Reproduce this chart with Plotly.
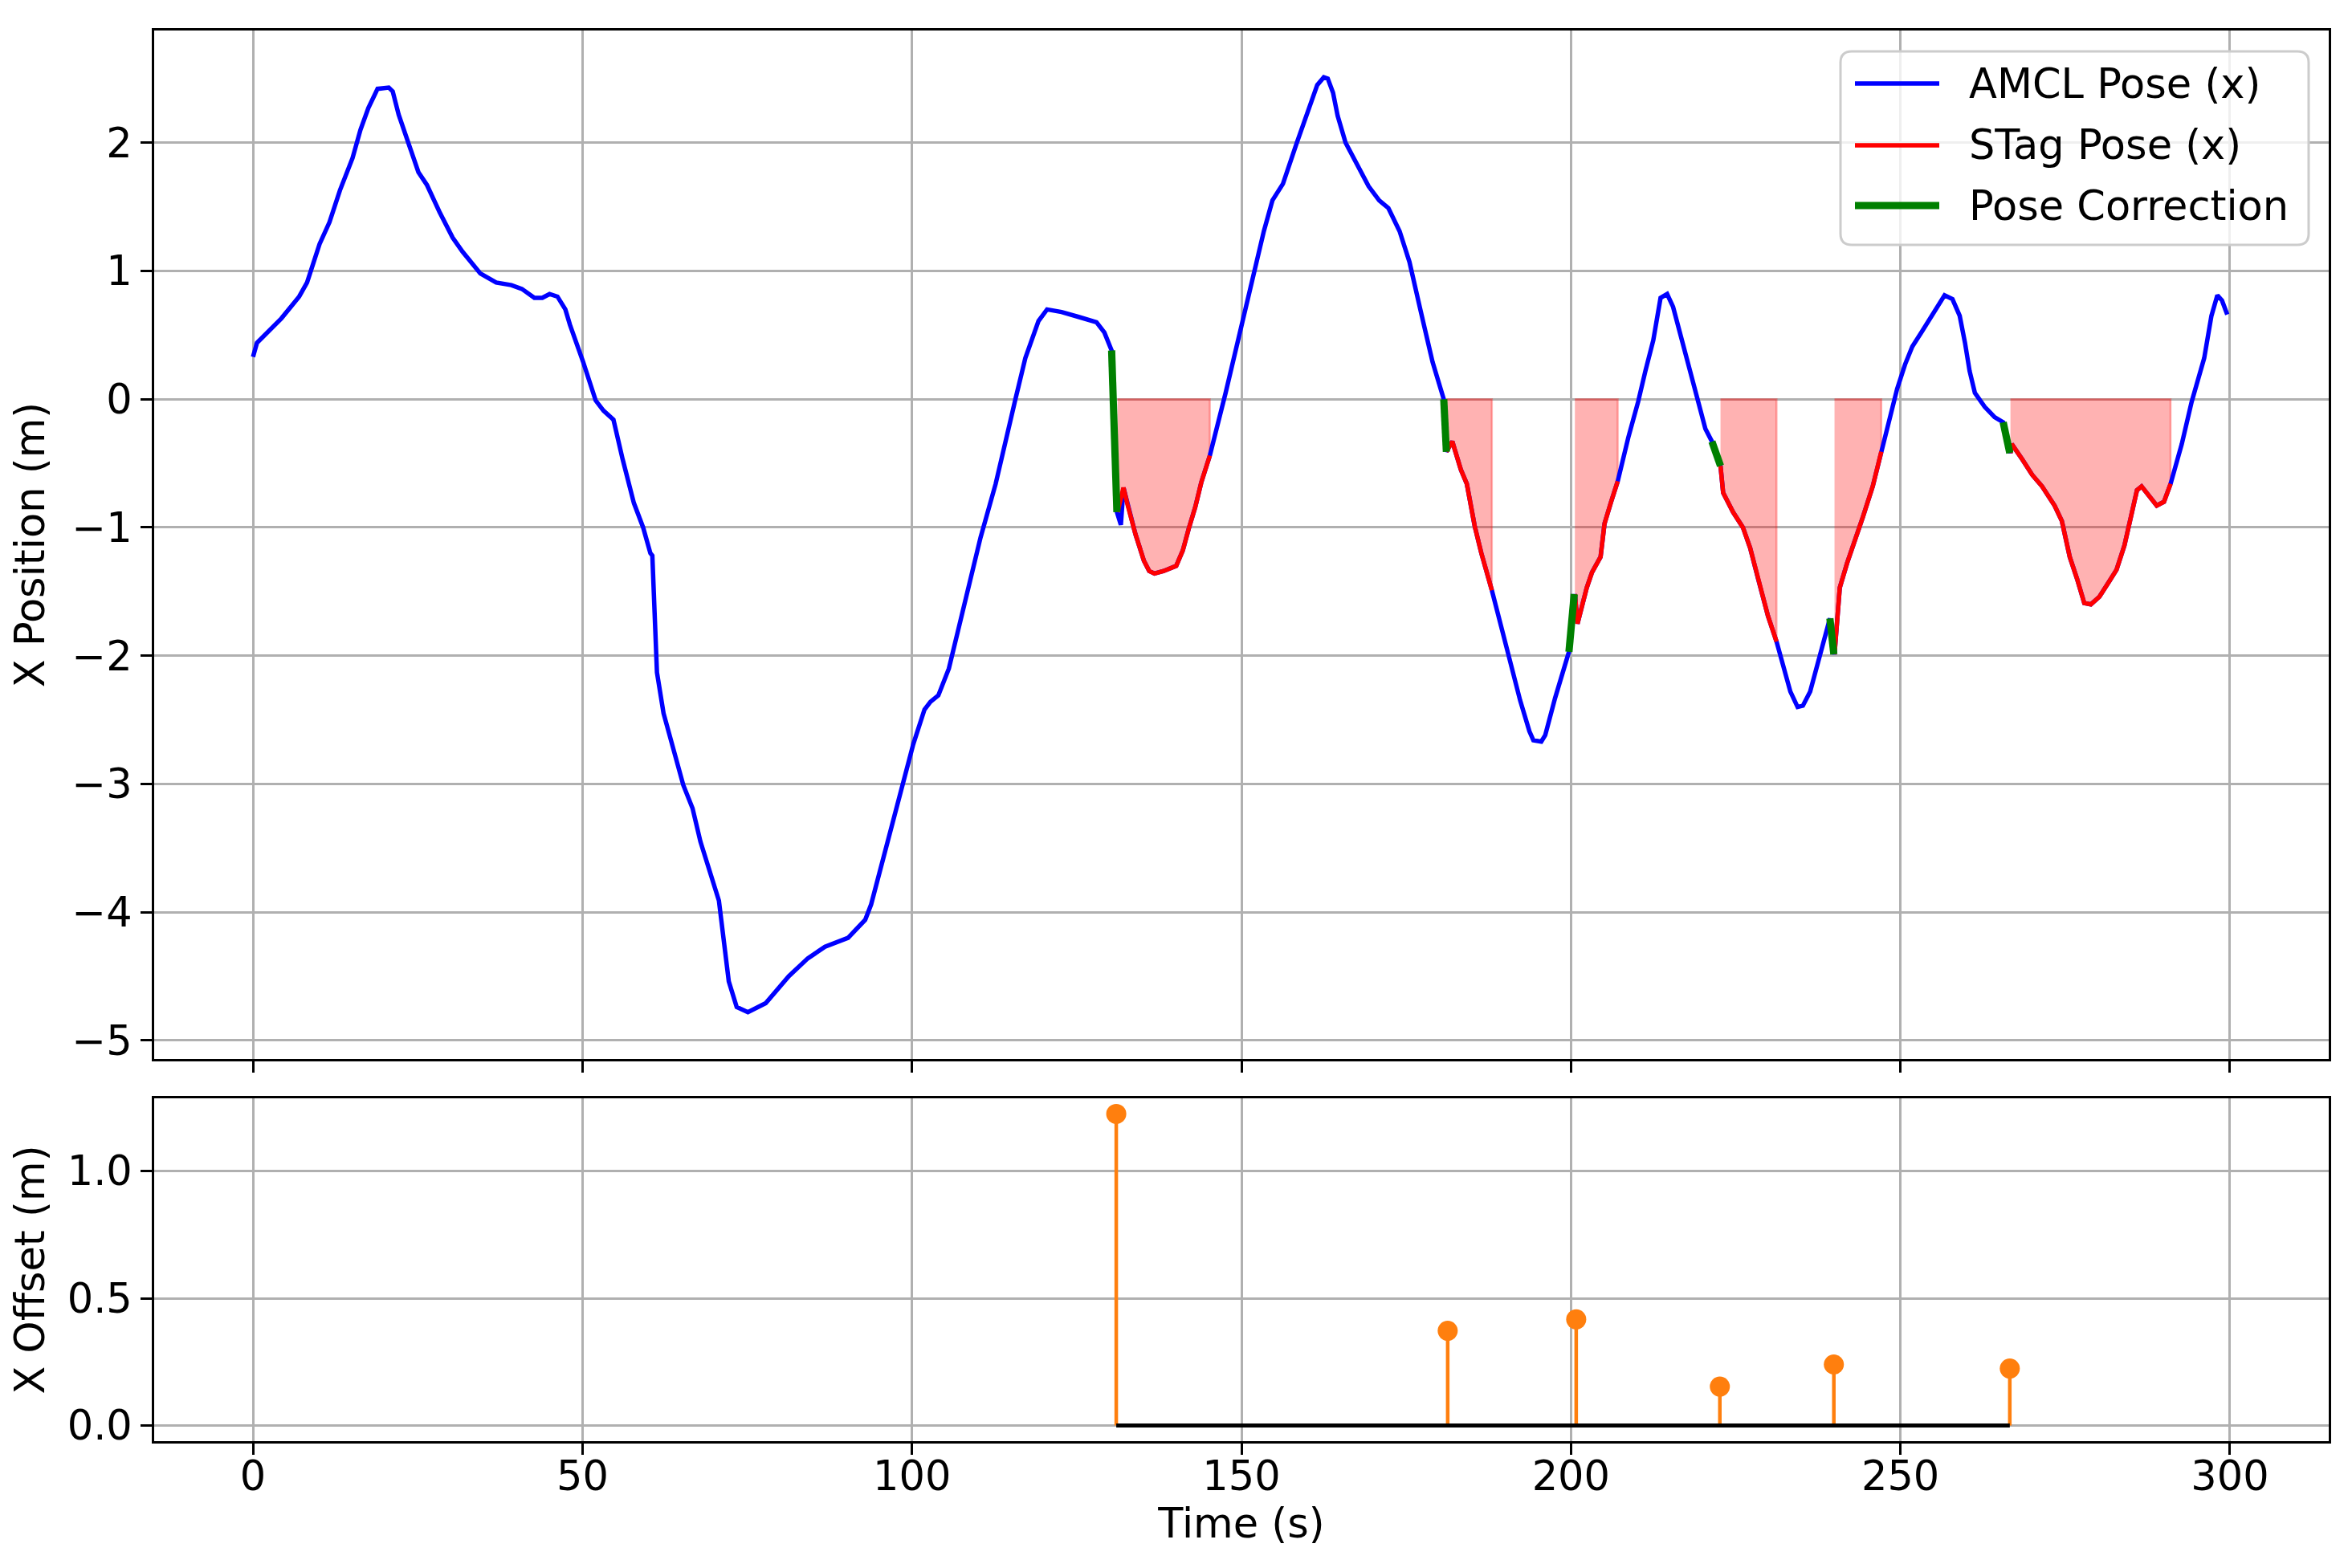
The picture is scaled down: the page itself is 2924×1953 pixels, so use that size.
import plotly.graph_objects as go

# ---------------- data ----------------
amcl_t = [0.0, 0.6, 4.3, 7.0, 8.2, 10.1, 11.6, 13.2, 15.1, 16.3, 17.5, 18.9, 20.6, 21.2,
          22.1, 23.7, 25.1, 26.4, 28.3, 30.3, 31.8, 34.5, 36.9, 39.2, 40.8, 42.7, 43.9,
          45.0, 46.2, 47.4, 48.1, 50.1, 52.0, 53.2, 54.7, 56.1, 57.8, 59.2, 60.3, 60.6,
          61.3, 62.3, 65.3, 66.7, 67.9, 70.7, 71.4, 72.2, 73.4, 75.1, 77.8, 81.3, 84.2,
          86.8, 90.3, 92.9, 93.8, 95.8, 98.7, 100.2, 101.9, 102.8, 104.0, 105.6, 107.2,
          108.6, 110.4, 112.7, 114.1, 115.7, 117.2, 119.2, 120.5, 122.7, 125.4, 128.0,
          129.2, 130.3, 131.1, 131.7, 132.1, 132.7, 133.9, 135.2, 136.0, 136.8, 138.2,
          140.1, 141.1, 142.0, 143.0, 143.9, 145.2, 147.6, 149.9, 152.2, 153.4, 154.7,
          156.3, 158.4, 160.4, 161.5, 162.5, 163.1, 163.9, 164.6, 165.8, 167.4, 169.3,
          170.9, 172.3, 174.0, 175.5, 177.1, 179.0, 180.7, 181.1, 182.0, 183.3, 184.2,
          185.4, 186.4, 188.0, 190.3, 192.3, 193.7, 194.3, 195.5, 196.1, 197.6, 199.7,
          200.6, 201.0, 202.4, 203.2, 204.5, 205.1, 206.1, 207.1, 208.7, 210.2, 211.3,
          212.5, 213.6, 214.6, 215.5, 216.6, 218.2, 219.3, 220.4, 221.4, 222.7, 223.1,
          224.6, 226.1, 227.2, 228.4, 229.9, 231.2, 232.1, 233.3, 234.4, 235.2, 236.3,
          237.4, 239.0, 239.3, 240.0, 240.8, 241.9, 243.1, 244.3, 245.8, 247.1, 248.4,
          249.5, 250.7, 251.8, 253.3, 255.2, 256.7, 257.9, 259.0, 259.8, 260.5, 261.3,
          262.8, 264.3, 265.6, 266.7, 266.9, 268.5, 270.0, 271.5, 273.4, 274.5, 275.7,
          276.8, 277.9, 278.9, 280.2, 281.7, 282.8, 284.0, 285.1, 285.9, 286.6, 287.8,
          288.9, 290.0, 291.0, 292.7, 294.2, 296.1, 297.2, 298.1, 298.8, 299.6]
amcl_x = [0.33, 0.44, 0.63, 0.80, 0.91, 1.21, 1.38, 1.63, 1.88, 2.10, 2.27, 2.42, 2.43, 2.40,
          2.22, 1.99, 1.77, 1.67, 1.46, 1.26, 1.15, 0.98, 0.91, 0.89, 0.86, 0.79, 0.79,
          0.82, 0.80, 0.70, 0.58, 0.29, -0.01, -0.09, -0.16, -0.47, -0.81, -1.00, -1.20, -1.22,
          -2.13, -2.45, -3.01, -3.19, -3.45, -3.91, -4.24, -4.54, -4.74, -4.78, -4.71, -4.50, -4.36,
          -4.27, -4.20, -4.06, -3.94, -3.55, -3.01, -2.69, -2.42, -2.36, -2.31, -2.10, -1.76,
          -1.46, -1.08, -0.66, -0.34, 0.00, 0.32, 0.61, 0.70, 0.68, 0.64, 0.60,
          0.52, 0.38, -0.88, -0.98, -0.69, -0.82, -1.05, -1.26, -1.34, -1.36, -1.34,
          -1.30, -1.18, -1.01, -0.84, -0.65, -0.44, 0.05, 0.56, 1.04, 1.31, 1.55,
          1.68, 2.00, 2.30, 2.45, 2.51, 2.50, 2.39, 2.21, 2.00, 1.85, 1.66,
          1.55, 1.49, 1.31, 1.07, 0.71, 0.29, 0.00, -0.41, -0.33, -0.55, -0.66,
          -0.99, -1.20, -1.49, -1.95, -2.35, -2.59, -2.66, -2.67, -2.62, -2.33, -1.97,
          -1.52, -1.75, -1.47, -1.35, -1.23, -0.97, -0.80, -0.64, -0.30, -0.02, 0.22,
          0.46, 0.79, 0.82, 0.72, 0.51, 0.22, -0.02, -0.23, -0.33, -0.52, -0.73,
          -0.88, -1.00, -1.16, -1.40, -1.69, -1.89, -2.07, -2.28, -2.40, -2.39, -2.28,
          -2.07, -1.77, -1.71, -1.99, -1.47, -1.28, -1.11, -0.92, -0.68, -0.41, -0.16,
          0.08, 0.27, 0.41, 0.53, 0.68, 0.81, 0.78, 0.65, 0.44, 0.22, 0.05,
          -0.06, -0.14, -0.18, -0.42, -0.35, -0.47, -0.59, -0.68, -0.83, -0.95, -1.23,
          -1.40, -1.59, -1.60, -1.54, -1.42, -1.33, -1.14, -0.88, -0.71, -0.68, -0.76,
          -0.83, -0.80, -0.66, -0.35, -0.02, 0.32, 0.65, 0.81, 0.77, 0.66]

stag1_t = [131.2, 132.1, 132.7, 133.9, 135.2, 136.0, 136.8, 138.2, 140.1, 141.1, 142.0, 143.0, 143.9, 145.2]
stag1_x = [-0.88, -0.69, -0.82, -1.05, -1.26, -1.34, -1.36, -1.34, -1.30, -1.18, -1.01, -0.84, -0.65, -0.44]
stag2_t = [181.1, 182.0, 183.3, 184.2, 185.4, 186.4, 188.0]
stag2_x = [-0.41, -0.33, -0.55, -0.66, -0.99, -1.20, -1.49]
stag3_t = [200.6, 201.0, 202.4, 203.2, 204.5, 205.1, 206.1, 207.1]
stag3_x = [-1.52, -1.75, -1.47, -1.35, -1.23, -0.97, -0.80, -0.64]
stag4_t = [222.7, 223.1, 224.6, 226.1, 227.2, 228.4, 229.9, 231.2]
stag4_x = [-0.52, -0.73, -0.88, -1.00, -1.16, -1.40, -1.69, -1.89]
stag5_t = [240.0, 240.8, 241.9, 243.1, 244.3, 245.8, 247.1]
stag5_x = [-1.99, -1.47, -1.28, -1.11, -0.92, -0.68, -0.41]
stag6_t = [266.7, 266.9, 268.5, 270.0, 271.5, 273.4, 274.5, 275.7, 276.8, 277.9, 278.9,
           280.2, 281.7, 282.8, 284.0, 285.1, 285.9, 286.6, 287.8, 288.9, 290.0, 291.0]
stag6_x = [-0.42, -0.35, -0.47, -0.59, -0.68, -0.83, -0.95, -1.23, -1.40, -1.59, -1.60,
           -1.54, -1.42, -1.33, -1.14, -0.88, -0.71, -0.68, -0.76, -0.83, -0.80, -0.66]

corr_t0 = [130.3, 180.7, 199.7, 221.4, 239.3, 265.6]
corr_x0 = [0.38, 0.00, -1.97, -0.33, -1.71, -0.18]
corr_t1 = [131.1, 181.1, 200.5, 222.7, 239.9, 266.6]
corr_x1 = [-0.88, -0.41, -1.52, -0.52, -1.99, -0.42]

offset_t = [131.0, 181.3, 200.8, 222.6, 239.9, 266.6]
offset_x = [1.224, 0.372, 0.417, 0.153, 0.240, 0.224]

x_ticks = [0, 50, 100, 150, 200, 250, 300]
y1_ticks = [-5, -4, -3, -2, -1, 0, 1, 2]
y2_ticks = [0.0, 0.5, 1.0]
y2_ticktext = ["0.0", "0.5", "1.0"]

legend_labels = ["AMCL Pose (x)", "STag Pose (x)", "Pose Correction"]

# ---------------- styling ----------------
OFF = 8                      # browser body margin around the plot div
W, H = 2924 - 2 * OFF, 1953 - 2 * OFF
# reference pixel positions (screen coords) of the axes frame
AX_L, AX_R, AX_T, AX_B = 192, 2900, 38, 1795
ML, MR, MT, MB = AX_L - OFF, (W + OFF) - AX_R, AX_T - OFF, (H + OFF) - AX_B
FONT = "DejaVu Sans"
FS = 51
BLUE, RED, GREEN, ORANGE = "#0000ff", "#ff0000", "#008000", "#ff7f0e"
GRID = "#b0b0b0"
LW_AX = 3
LW_LINE = 5.5
LW_CORR = 9

fig = go.Figure()

stag_windows = [(stag1_t, stag1_x), (stag2_t, stag2_x), (stag3_t, stag3_x),
                (stag4_t, stag4_x), (stag5_t, stag5_x), (stag6_t, stag6_x)]

# shaded areas between STag pose and zero
for st, sx in stag_windows:
    fig.add_trace(go.Scatter(
        x=list(st) + list(st[::-1]), y=list(sx) + [0.0] * len(st),
        mode="lines", fill="toself", fillcolor="rgba(255,0,0,0.3)",
        line=dict(color="rgba(255,0,0,0.3)", width=2.5),
        hoverinfo="skip", showlegend=False, xaxis="x", yaxis="y"))

# AMCL pose
fig.add_trace(go.Scatter(x=amcl_t, y=amcl_x, mode="lines", name=legend_labels[0],
                         line=dict(color=BLUE, width=LW_LINE), showlegend=False,
                         xaxis="x", yaxis="y"))

# STag pose
for st, sx in stag_windows:
    fig.add_trace(go.Scatter(x=st, y=sx, mode="lines", name=legend_labels[1],
                             line=dict(color=RED, width=LW_LINE), showlegend=False,
                             xaxis="x", yaxis="y"))

# Pose corrections
gx, gy = [], []
for a, b, c, d in zip(corr_t0, corr_x0, corr_t1, corr_x1):
    gx += [a, c, None]
    gy += [b, d, None]
fig.add_trace(go.Scatter(x=gx, y=gy, mode="lines", name=legend_labels[2],
                         line=dict(color=GREEN, width=LW_CORR), showlegend=False,
                         xaxis="x", yaxis="y"))

# Stem plot of offsets
sx_, sy_ = [], []
for t, v in zip(offset_t, offset_x):
    sx_ += [t, t, None]
    sy_ += [0.0, v, None]
fig.add_trace(go.Scatter(x=sx_, y=sy_, mode="lines", line=dict(color=ORANGE, width=4.5),
                         showlegend=False, hoverinfo="skip", xaxis="x2", yaxis="y2"))
fig.add_trace(go.Scatter(x=[min(offset_t), max(offset_t)], y=[0.0, 0.0], mode="lines",
                         line=dict(color="black", width=5), showlegend=False,
                         hoverinfo="skip", xaxis="x2", yaxis="y2"))
fig.add_trace(go.Scatter(x=offset_t, y=offset_x, mode="markers",
                         marker=dict(color=ORANGE, size=25), name="X Offset",
                         showlegend=False, xaxis="x2", yaxis="y2"))

# ---------------- axes ----------------
plot_h = AX_B - AX_T
plot_w = AX_R - AX_L
def py(p):  # screen pixel row -> paper y
    return (AX_B - p) / plot_h
def px(p):  # screen pixel column -> paper x
    return (p - AX_L) / plot_w

top_dom = [py(1319), 1.0]
bot_dom = [0.0, py(1368)]

common = dict(showline=True, linecolor="black", linewidth=LW_AX, mirror=True,
              showgrid=True, gridcolor=GRID, gridwidth=2.5, zeroline=False,
              ticks="outside", ticklen=14, tickwidth=LW_AX, tickcolor="black",
              tickfont=dict(family=FONT, size=FS, color="black"))

fig.update_layout(
    width=W, height=H,
    margin=dict(l=ML, r=MR, t=MT, b=MB),
    paper_bgcolor="white", plot_bgcolor="white",
    font=dict(family=FONT, size=FS, color="black"),
    showlegend=False,
    xaxis=dict(domain=[0, 1], anchor="y", range=[-15, 315], tickvals=x_ticks,
               showticklabels=False, matches="x2", **common),
    yaxis=dict(domain=top_dom, anchor="x", range=[-5.145, 2.875], tickvals=y1_ticks,
               ticklabelstandoff=0,
               title=dict(text="X Position (m)", font=dict(family=FONT, size=FS), standoff=26),
               **common),
    xaxis2=dict(domain=[0, 1], anchor="y2", range=[-15, 315], tickvals=x_ticks,
                ticklabelstandoff=-17,
                title=dict(text="Time (s)", font=dict(family=FONT, size=FS), standoff=6),
                **common),
    yaxis2=dict(domain=bot_dom, anchor="x2", range=[-0.0612, 1.2852], tickvals=y2_ticks,
                ticktext=y2_ticktext, ticklabelstandoff=0,
                title=dict(text="X Offset (m)", font=dict(family=FONT, size=FS), standoff=26),
                **common),
)

# ---------------- legend (drawn box + samples + text) ----------------
lx0, lx1 = px(2292), px(2875)
ly0, ly1 = py(305), py(64)
rx, ry = 14 / plot_w, 14 / plot_h
path = (f"M {lx0+rx},{ly1} L {lx1-rx},{ly1} Q {lx1},{ly1} {lx1},{ly1-ry} "
        f"L {lx1},{ly0+ry} Q {lx1},{ly0} {lx1-rx},{ly0} L {lx0+rx},{ly0} "
        f"Q {lx0},{ly0} {lx0},{ly0+ry} L {lx0},{ly1-ry} Q {lx0},{ly1} {lx0+rx},{ly1} Z")
fig.add_shape(type="path", path=path, xref="paper", yref="paper",
              fillcolor="rgba(255,255,255,0.8)", line=dict(color="#cccccc", width=3))
rows = [104, 181, 256]
cols = [(BLUE, LW_LINE), (RED, LW_LINE), (GREEN, LW_CORR)]
for lab, r, (c, w) in zip(legend_labels, rows, cols):
    fig.add_shape(type="line", xref="paper", yref="paper", x0=px(2310), x1=px(2415),
                  y0=py(r), y1=py(r), line=dict(color=c, width=w))
    fig.add_annotation(text=lab, xref="paper", yref="paper", x=px(2450), y=py(r),
                       xanchor="left", yanchor="middle", showarrow=False,
                       font=dict(family=FONT, size=FS, color="black"))

fig.write_html("out.html")
